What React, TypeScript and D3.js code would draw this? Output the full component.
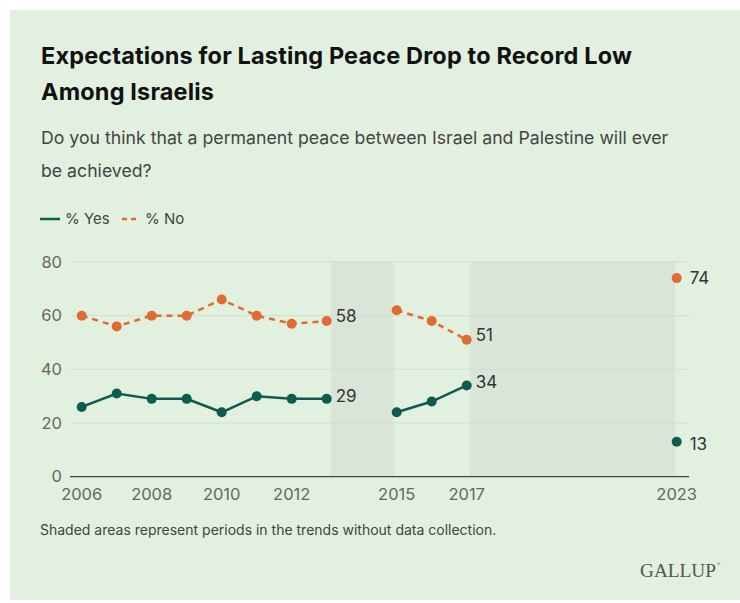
import React from "react";
import * as d3 from "d3";

const yesYears1 = [2006, 2007, 2008, 2009, 2010, 2011, 2012, 2013];
const yesValues1 = [26, 31, 29, 29, 24, 30, 29, 29];
const noValues1 = [60, 56, 60, 60, 66, 60, 57, 58];
const years2 = [2015, 2016, 2017];
const yesValues2 = [24, 28, 34];
const noValues2 = [62, 58, 51];
const years3 = [2023];
const yesValues3 = [13];
const noValues3 = [74];
const yTicks = [0, 20, 40, 60, 80];
const xTickLabels = [2006, 2008, 2010, 2012, 2015, 2017, 2023];
const shadedPeriods: [number, number][] = [
  [2013.12, 2014.92],
  [2017.1, 2022.95],
];

const GREEN = "#0d5c4e";
const ORANGE = "#e06c32";
const FONT = "Inter, 'Noto Sans', sans-serif";

export default function App() {
  const x = d3.scaleLinear().domain([2006, 2023]).range([81.7, 676.7]);
  const y = d3.scaleLinear().domain([0, 80]).range([476.7, 262]);
  const line = d3
    .line<[number, number]>()
    .x((d) => x(d[0]))
    .y((d) => y(d[1]));

  const segs = [
    { years: yesYears1, yes: yesValues1, no: noValues1, isLast: false },
    { years: years2, yes: yesValues2, no: noValues2, isLast: false },
    { years: years3, yes: yesValues3, no: noValues3, isLast: true },
  ];

  return (
    <svg
      width={740}
      height={603}
      style={{ position: "absolute", left: 0, top: 0 }}
      fontFamily={FONT}
    >
      <rect x={0} y={0} width={740} height={603} fill="#fff" />
      <rect x={10} y={10} width={730} height={590} fill="#e2f0e0" />
      <text x={41} y={64} fontSize={23.5} fontWeight={700} fill="#111" letterSpacing={0.15}>
        Expectations for Lasting Peace Drop to Record Low
      </text>
      <text x={41} y={100} fontSize={23.5} fontWeight={700} fill="#111" letterSpacing={0.15}>
        Among Israelis
      </text>
      <text x={41} y={144} fontSize={17.7} fill="#444">
        Do you think that a permanent peace between Israel and Palestine will ever
      </text>
      <text x={41} y={177} fontSize={17.7} fill="#444">
        be achieved?
      </text>

      {/* legend */}
      <line x1={40} x2={60} y1={219} y2={219} stroke={GREEN} strokeWidth={2.5} />
      <text x={65} y={224} fontSize={15} fill="#444">% Yes</text>
      <line
        x1={122}
        x2={139}
        y1={219}
        y2={219}
        stroke={ORANGE}
        strokeWidth={2.5}
        strokeDasharray="5,4"
      />
      <text x={145} y={224} fontSize={15} fill="#444">% No</text>

      {/* shaded */}
      {shadedPeriods.map(([a, b], i) => (
        <rect
          key={i}
          x={x(a)}
          y={y(80)}
          width={x(b) - x(a)}
          height={y(0) - y(80)}
          fill="#d9e5d7"
        />
      ))}

      {/* grid */}
      {yTicks.map((t) => (
        <g key={t}>
          {t > 0 && (
            <line
              x1={70}
              x2={689}
              y1={y(t)}
              y2={y(t)}
              stroke="#d2dfd0"
              strokeWidth={1}
            />
          )}
          <text
            x={62}
            y={y(t)}
            dy="0.35em"
            textAnchor="end"
            fontSize={16.5}
            fill="#666"
          >
            {t}
          </text>
        </g>
      ))}
      <line x1={70} x2={689} y1={y(0)} y2={y(0)} stroke="#444" strokeWidth={1.2} />
      {xTickLabels.map((t) => (
        <text key={t} x={x(t)} y={500} textAnchor="middle" fontSize={16.5} fill="#666">
          {t}
        </text>
      ))}

      {/* lines */}
      {segs.map((s, i) => {
        const yesPts = s.years.map((yr, j) => [yr, s.yes[j]] as [number, number]);
        const noPts = s.years.map((yr, j) => [yr, s.no[j]] as [number, number]);
        const lastNo = noPts[noPts.length - 1];
        const lastYes = yesPts[yesPts.length - 1];
        const dx = s.isLast ? 13 : 9;
        const dy = s.isLast ? "0.35em" : "0.05em";
        return (
          <g key={i}>
            <path d={line(noPts) || ""} fill="none" stroke={ORANGE} strokeWidth={2.5} strokeDasharray="6,5" />
            <path d={line(yesPts) || ""} fill="none" stroke={GREEN} strokeWidth={2.5} />
            {noPts.map((p, j) => (
              <circle key={"n" + j} cx={x(p[0])} cy={y(p[1])} r={5} fill={ORANGE} />
            ))}
            {yesPts.map((p, j) => (
              <circle key={"y" + j} cx={x(p[0])} cy={y(p[1])} r={5} fill={GREEN} />
            ))}
            <text x={x(lastNo[0]) + dx} y={y(lastNo[1])} dy={dy} fontSize={17} fill="#333">
              {lastNo[1]}
            </text>
            <text x={x(lastYes[0]) + dx} y={y(lastYes[1]) + 2} dy={dy} fontSize={17} fill="#333">
              {lastYes[1]}
            </text>
          </g>
        );
      })}

      <text x={40} y={535} fontSize={14} fill="#444">
        Shaded areas represent periods in the trends without data collection.
      </text>
      <text x={640} y={577} fontSize={19} fill="#555" fontFamily="'Liberation Serif', 'DejaVu Serif', serif" textLength={76} lengthAdjust="spacingAndGlyphs">
        GALLUP
      </text>
      <text x={717} y={566} fontSize={5} fill="#777">®</text>
    </svg>
  );
}
